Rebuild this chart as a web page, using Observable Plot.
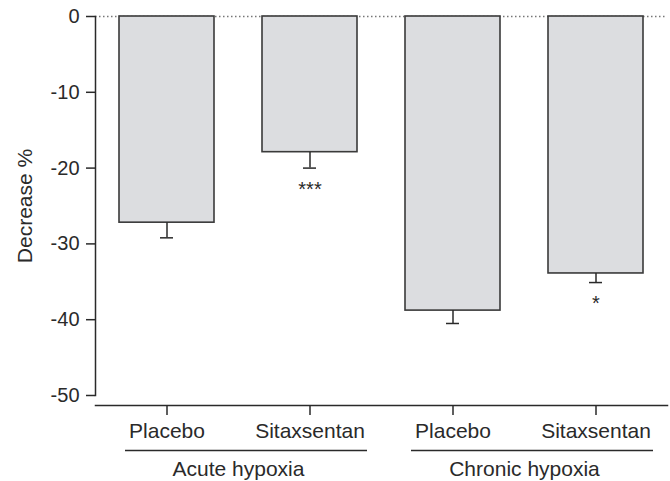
<!DOCTYPE html>
<html>
<head>
<meta charset="utf-8">
<script src="https://cdn.jsdelivr.net/npm/d3@7"></script>
<script src="https://cdn.jsdelivr.net/npm/@observablehq/plot@0.6"></script>
<style>
  html, body { margin: 0; padding: 0; background: #fff; }
</style>
</head>
<body>
<div id="chart"></div>
<script>
// ---- data ----
const conditions = ["Acute hypoxia", "Acute hypoxia", "Chronic hypoxia", "Chronic hypoxia"];
const treatments = ["Placebo", "Sitaxsentan", "Placebo", "Sitaxsentan"];
const means = [-27.2, -17.9, -38.8, -33.9];
const errLow = [-29.2, -20.0, -40.5, -35.1];
const significance = ["", "***", "", "*"];
const groupNames = ["Acute hypoxia", "Chronic hypoxia"];
const yTicks = [0, -10, -20, -30, -40, -50];
const yLabel = "Decrease %";

// ---- layout ----
const W = 670, H = 481;
const mL = 95, mR = 3, mT = 16, mB = 76;
const yMin = -51.32;
const padIn = 0.336;

const keys = treatments.map((t, i) => conditions[i] + "|" + t);
const rows = keys.map((k, i) => ({key: k, cond: conditions[i], treat: treatments[i], mean: means[i], lo: errLow[i], sig: significance[i]}));
const groups = groupNames.map(g => {
  const ks = keys.filter((k, i) => conditions[i] === g);
  return {name: g, first: ks[0], last: ks[ks.length - 1]};
});
const step = (W - mL - mR) / keys.length;
const frameH = H - mT - mB;
const axisGap = frameH * (-50 - yMin) / (0 - yMin);
const ink = "#2a2a2a";
const font = "'Liberation Sans', Arial, Helvetica, sans-serif";

const chart = Plot.plot({
  width: W, height: H,
  marginLeft: mL, marginRight: mR, marginTop: mT, marginBottom: mB,
  style: {fontFamily: font, color: ink, background: "#fff", overflow: "visible"},
  x: {domain: keys, paddingInner: padIn, paddingOuter: padIn / 2, axis: null},
  y: {domain: [yMin, 0], axis: null},
  marks: [
    Plot.ruleY([0], {stroke: "#777", strokeWidth: 1.5, strokeDasharray: "1.5,2.5"}),
    Plot.barY(rows, {x: "key", y1: 0, y2: "mean", fill: "#dcdde0", stroke: "#3a3a3a", strokeWidth: 1.6}),
    Plot.ruleX(rows, {x: "key", y1: "mean", y2: "lo", stroke: ink, strokeWidth: 1.5}),
    Plot.tickY(rows, {x: "key", y: "lo", stroke: ink, strokeWidth: 1.5, insetLeft: 41, insetRight: 41}),
    Plot.text(rows, {x: "key", y: "lo", text: "sig", dy: 21, fontSize: 20, fill: ink}),
    Plot.frame({anchor: "left", stroke: ink, strokeWidth: 1.5, insetBottom: axisGap}),
    Plot.frame({anchor: "bottom", stroke: ink, strokeWidth: 1.5}),
    Plot.axisY({ticks: yTicks, tickSize: 9, tickPadding: 7, tickFormat: d => String(d), fontSize: 20, strokeWidth: 1.5, label: null}),
    Plot.axisX({tickSize: 10, tickPadding: 8, tickFormat: k => k.split("|")[1], fontSize: 21, strokeWidth: 1.5, label: null}),
    Plot.text([yLabel], {frameAnchor: "left", text: d => d, textAnchor: "middle", rotate: -90, dx: -70, dy: -5, fontSize: 21, fill: ink}),
    Plot.ruleY(groups, {x1: "first", x2: "last", y: () => yMin, dy: 45, insetLeft: 6, insetRight: -10, stroke: ink, strokeWidth: 1.5}),
    Plot.text(groups, {x: "first", y: () => yMin, text: "name", dx: step / 2, dy: 64, fontSize: 21, fill: ink})
  ]
});
document.getElementById("chart").appendChild(chart);
</script>
</body>
</html>
